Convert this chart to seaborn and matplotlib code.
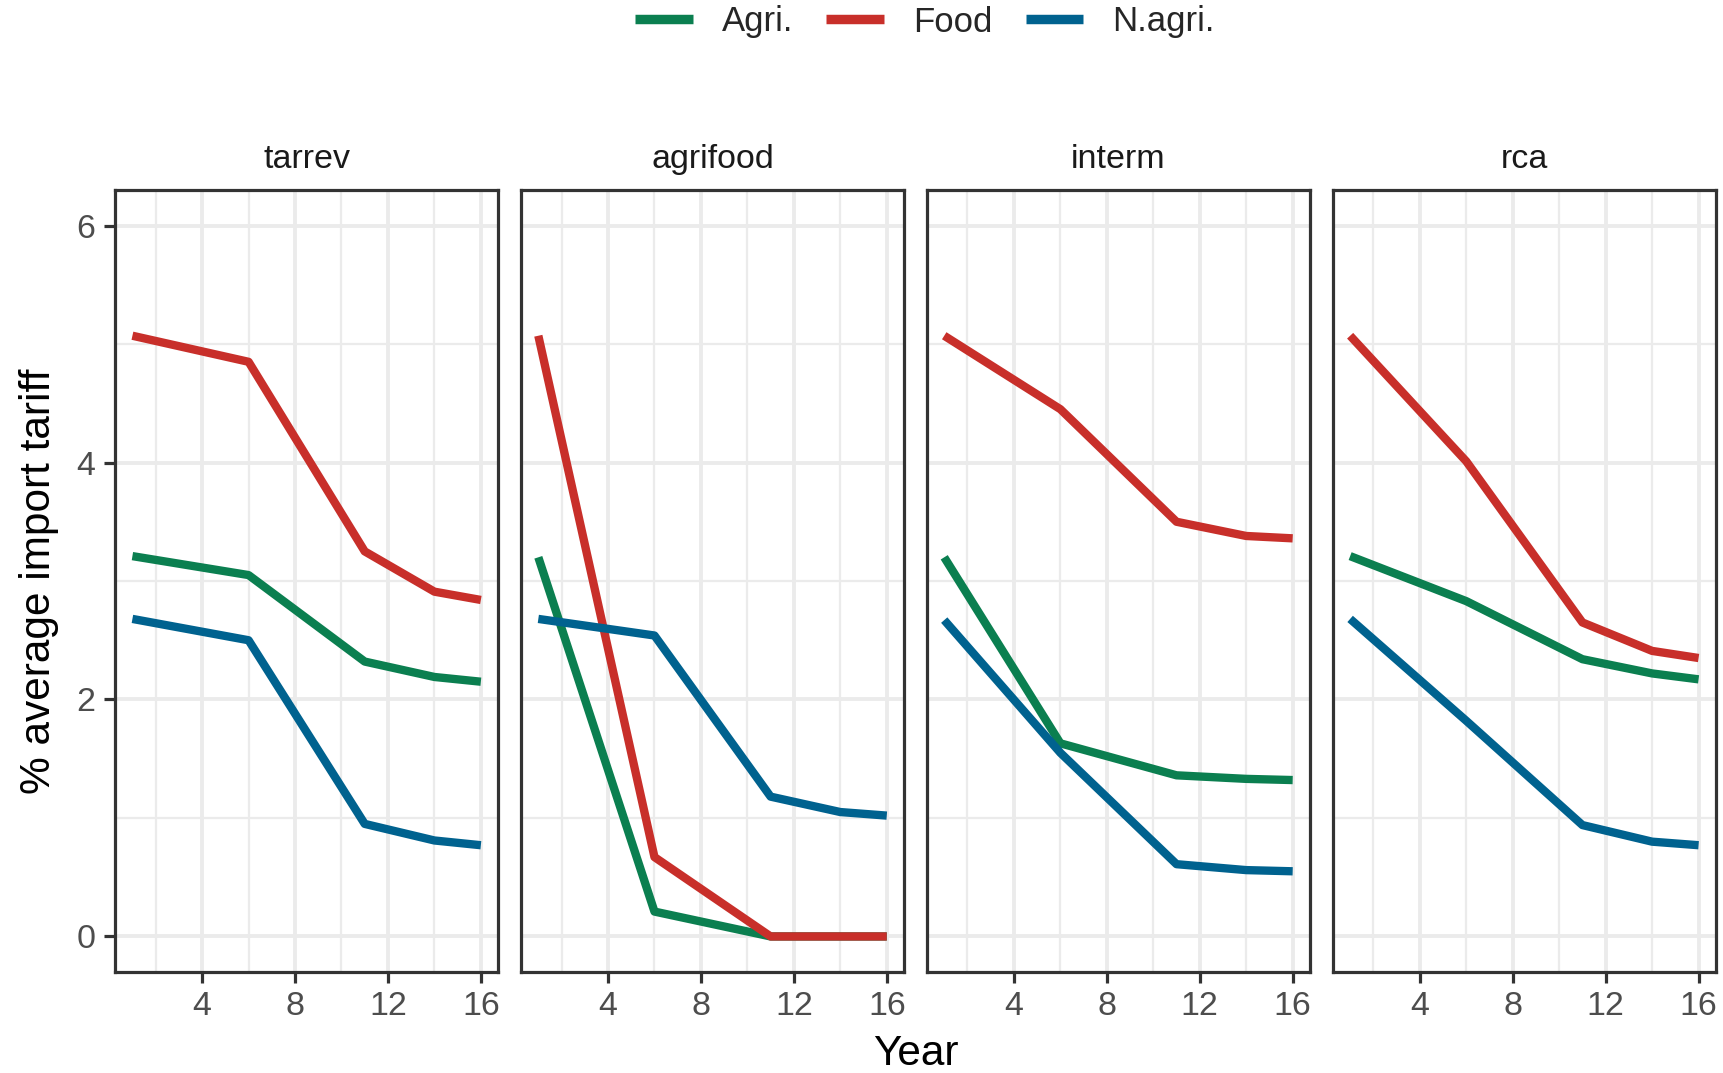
import numpy as np
import pandas as pd
import matplotlib
matplotlib.use("Agg")
import matplotlib.pyplot as plt
import seaborn as sns

# ---- data ----
years = [1, 6, 11, 14, 16]
panels = ["tarrev", "agrifood", "interm", "rca"]
series = ["Agri.", "Food", "N.agri."]

tarrev_agri = [3.21, 3.05, 2.32, 2.19, 2.15]
tarrev_food = [5.07, 4.85, 3.25, 2.91, 2.84]
tarrev_nagri = [2.68, 2.50, 0.95, 0.81, 0.77]

agrifood_agri = [3.20, 0.21, 0.0, 0.0, 0.0]
agrifood_food = [5.07, 0.67, 0.0, 0.0, 0.0]
agrifood_nagri = [2.68, 2.54, 1.18, 1.05, 1.02]

interm_agri = [3.20, 1.63, 1.36, 1.33, 1.32]
interm_food = [5.07, 4.45, 3.50, 3.38, 3.36]
interm_nagri = [2.67, 1.55, 0.61, 0.56, 0.55]

rca_agri = [3.21, 2.83, 2.34, 2.22, 2.17]
rca_food = [5.07, 4.01, 2.65, 2.41, 2.35]
rca_nagri = [2.68, 1.82, 0.94, 0.80, 0.77]

x_major = [4, 8, 12, 16]
x_minor = [2, 6, 10, 14]
y_major = [0, 2, 4, 6]
y_minor = [1, 3, 5]

colors = {"Agri.": "#0B7F50", "Food": "#C82F2A", "N.agri.": "#00628F"}

values = {
    "tarrev": [tarrev_agri, tarrev_food, tarrev_nagri],
    "agrifood": [agrifood_agri, agrifood_food, agrifood_nagri],
    "interm": [interm_agri, interm_food, interm_nagri],
    "rca": [rca_agri, rca_food, rca_nagri],
}
rows = []
for p in panels:
    for s, vals in zip(series, values[p]):
        for yr, v in zip(years, vals):
            rows.append({"panel": p, "series": s, "Year": yr, "value": v})
df = pd.DataFrame(rows)

# ---- style ----
sns.set_theme(style="white")
plt.rcParams["font.family"] = ["Liberation Sans", "DejaVu Sans"]

W, H = 1724, 1073
fig, axes = plt.subplots(1, 4, figsize=(W / 100, H / 100), dpi=100, sharey=True)
fig.subplots_adjust(left=115 / W, right=1716 / W, bottom=1 - 972 / H, top=1 - 190 / H,
                    wspace=0.059)

grid_col = "#EBEBEB"
dark = "#333333"

for ax, p in zip(axes, panels):
    sub = df[df["panel"] == p]
    sns.lineplot(data=sub, x="Year", y="value", hue="series", hue_order=series,
                 palette=colors, linewidth=6.0, errorbar=None, sort=False,
                 legend=False, ax=ax)
    for ln in ax.get_lines():
        ln.set_solid_capstyle("butt")
        ln.set_solid_joinstyle("round")
    ax.set_xlim(0.25, 16.75)
    ax.set_ylim(-0.3, 6.3)
    ax.set_xticks(x_major)
    ax.set_xticks(x_minor, minor=True)
    ax.set_yticks(y_major)
    ax.set_yticks(y_minor, minor=True)
    ax.grid(True, which="major", color=grid_col, linewidth=2.8)
    ax.grid(True, which="minor", color=grid_col, linewidth=1.6)
    ax.set_axisbelow(True)
    for sp in ax.spines.values():
        sp.set_color(dark)
        sp.set_linewidth(2.3)
    ax.tick_params(which="major", length=8, width=2.3, color=dark,
                   labelsize=24.5, labelcolor="#4D4D4D", pad=6,
                   bottom=True, left=True)
    ax.tick_params(which="minor", length=0)
    ax.set_xlabel("")
    ax.set_ylabel("")
    ax.set_title(p, fontsize=24.5, color="#1A1A1A", pad=16)

for ax in axes[1:]:
    ax.tick_params(axis="y", which="both", left=False, labelleft=False)

fig.text(915.5 / W, 1 - 1065 / H, "Year", ha="center", va="baseline",
         fontsize=30.5, color="black")
fig.text(39 / W, 1 - 581 / H, "% average import tariff", ha="center", va="center",
         rotation=90, fontsize=30.5, color="black")

handles = axes[0].get_lines()[:3]
leg = fig.legend(handles, series, loc="center", ncol=3,
                 bbox_to_anchor=(925 / W, 1 - 22 / H), frameon=False,
                 fontsize=25, handlelength=1.65, handletextpad=0.85,
                 columnspacing=0.95)
for ln in leg.get_lines():
    ln.set_linewidth(6.8)

fig.savefig("out.png", dpi=100, facecolor="white")
